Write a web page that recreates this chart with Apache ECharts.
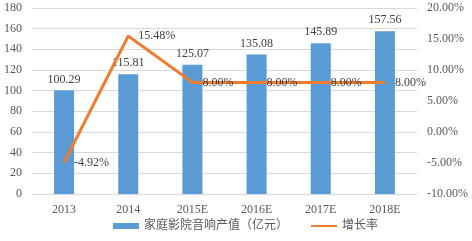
<!DOCTYPE html>
<html><head><meta charset="utf-8">
<script src="https://cdn.jsdelivr.net/npm/echarts@6/dist/echarts.min.js"></script>
<style>html,body{margin:0;padding:0;background:#fff}#c{width:472px;height:241px}</style>
</head><body><div id="c"></div>
<script>
const categories = ['2013','2014','2015E','2016E','2017E','2018E'];
const outputValues = [100.29,115.81,125.07,135.08,145.89,157.56];
const growthRates = [-4.92,15.48,8.00,8.00,8.00,8.00];
const barName = '家庭影院音响产值（亿元）';
const lineName = '增长率';
const FONT = '"Liberation Serif", "Noto Sans CJK SC", serif';
const chart = echarts.init(document.getElementById('c'));
chart.setOption({
  animation:false,
  textStyle:{fontFamily:FONT},
  grid:{left:32,right:55,top:8,bottom:47},
  legend:{left:108,bottom:4,itemWidth:26,itemHeight:6,itemGap:22,
    textStyle:{fontFamily:FONT,fontSize:12,color:'#595959'},
    data:[{name:barName,icon:'rect'},{name:lineName,itemStyle:{opacity:0}}]},
  xAxis:{type:'category',data:categories,
    axisLine:{lineStyle:{color:'#D9D9D9'}},axisTick:{show:false},
    axisLabel:{color:'#595959',fontSize:12,fontFamily:FONT,margin:10}},
  yAxis:[
    {type:'value',min:0,max:180,interval:20,
     axisLine:{show:false},axisTick:{show:false},
     splitLine:{lineStyle:{color:'#D9D9D9'}},
     axisLabel:{color:'#595959',fontSize:12,fontFamily:FONT,margin:10}},
    {type:'value',min:-10,max:20,interval:5,
     axisLine:{show:false},axisTick:{show:false},splitLine:{show:false},
     axisLabel:{color:'#595959',fontSize:12,fontFamily:FONT,margin:10,
       formatter:v=>v.toFixed(2)+'%'}}
  ],
  series:[
    {name:barName,type:'bar',data:outputValues,barWidth:20,
     itemStyle:{color:'#5B9BD5'},
     label:{show:true,position:'top',distance:5,color:'#404040',fontSize:12,fontFamily:FONT,
       formatter:p=>p.value.toFixed(2)}},
    {name:lineName,type:'line',yAxisIndex:1,data:growthRates,symbol:'circle',symbolSize:0,showSymbol:true,
     lineStyle:{color:'#ED7D31',width:3},itemStyle:{color:'#ED7D31'},
     label:{show:true,position:'right',distance:10,color:'#404040',fontSize:12,fontFamily:FONT,
       formatter:p=>p.value.toFixed(2)+'%'}}
  ]
});
</script></body></html>
